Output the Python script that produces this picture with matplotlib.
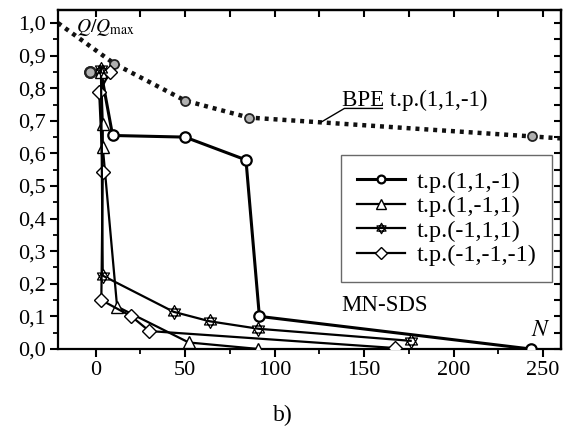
import matplotlib.pyplot as plt
from matplotlib.path import Path
from matplotlib.ticker import MultipleLocator, FuncFormatter

plt.rcParams['font.family'] = ['Liberation Serif', 'DejaVu Serif']
plt.rcParams['mathtext.fontset'] = 'stix'

# t.p.(1,1,-1)
x_c = [-3, 3, 9.5, 50, 84, 91.5, 243]
y_c = [0.85, 0.85, 0.655, 0.65, 0.58, 0.10, 0.0]
# t.p.(1,-1,1)
x_t = [3, 4, 4, 12, 52, 91]
y_t = [0.85, 0.69, 0.62, 0.13, 0.02, 0.0]
# t.p.(-1,1,1)
x_s = [3, 4, 43.6, 63.7, 91, 176]
y_s = [0.86, 0.225, 0.114, 0.085, 0.062, 0.025]
# t.p.(-1,-1,-1)
x_d = [8, 2, 4, 3.2, 20, 30, 167]
y_d = [0.85, 0.787, 0.544, 0.15, 0.10, 0.055, 0.003]
# BPE t.p.(1,1,-1)
x_bpe = [-21, 10.5, 50, 85.5, 244, 260]
y_bpe = [1.0, 0.875, 0.762, 0.71, 0.652, 0.646]

# hexagram marker (two overlapping triangles)
star = Path([(0, 1), (-0.866, -0.5), (0.866, -0.5), (0, 1),
             (0, -1), (-0.866, 0.5), (0.866, 0.5), (0, -1)],
            [Path.MOVETO, Path.LINETO, Path.LINETO, Path.CLOSEPOLY,
             Path.MOVETO, Path.LINETO, Path.LINETO, Path.CLOSEPOLY])

fig = plt.figure(figsize=(5.71, 4.34), dpi=100)
ax = fig.add_axes([0.1016, 0.1959, 0.8809, 0.7811])

ax.plot(x_bpe, y_bpe, color='#111111', lw=3.2, ls=(0, (0.9, 1.1)),
        dash_capstyle='butt', marker='o', ms=6.5, mfc='#b0b0b0', mec='#222222',
        mew=1.3, markevery=[1, 2, 3, 4], zorder=2)

kw = dict(color='black', mfc='white', mec='black')
ax.plot(x_t, y_t, marker='^', ms=9, lw=1.6, mew=1.0, label='t.p.(1,-1,1)', zorder=4, **kw)
ax.plot(x_s, y_s, marker=star, ms=10, lw=1.6, mew=0.9, label='t.p.(-1,1,1)', zorder=6, **kw)
ax.plot(x_d, y_d, marker='D', ms=7.5, lw=1.6, mew=1.0, label='t.p.(-1,-1,-1)', zorder=5, **kw)
ax.plot(x_c, y_c, marker='o', ms=7.5, lw=2.2, mew=1.6, label='t.p.(1,1,-1)', zorder=3, **kw)
ax.plot(x_c[:1], y_c[:1], ls='none', marker='o', ms=7.5, mfc='#b0b0b0',
        mec='#222222', mew=1.6, zorder=3)

ax.set_xlim(-21, 260)
ax.set_ylim(0, 1.04)
ax.xaxis.set_major_locator(MultipleLocator(50))
ax.xaxis.set_minor_locator(MultipleLocator(25))
ax.yaxis.set_major_locator(MultipleLocator(0.1))
ax.yaxis.set_minor_locator(MultipleLocator(0.05))
ax.yaxis.set_major_formatter(FuncFormatter(lambda v, p: f"{v:.1f}".replace('.', ',')))
ax.tick_params(which='major', direction='out', length=6, width=1.5, labelsize=16, pad=3)
ax.tick_params(which='minor', direction='out', length=3.5, width=1.3)
for s in ax.spines.values():
    s.set_linewidth(1.6)

top = ax.secondary_xaxis('top')
top.xaxis.set_major_locator(MultipleLocator(50))
top.xaxis.set_minor_locator(MultipleLocator(25))
top.tick_params(which='both', direction='in', length=5, width=1.5, labeltop=False)
right = ax.secondary_yaxis('right')
right.yaxis.set_major_locator(MultipleLocator(0.1))
right.yaxis.set_minor_locator(MultipleLocator(0.05))
right.tick_params(which='both', direction='in', length=5, width=1.5, labelright=False)
top.spines['top'].set_linewidth(1.6)
right.spines['right'].set_linewidth(1.6)

h, l = ax.get_legend_handles_labels()
order = [3, 0, 1, 2]
leg = ax.legend([h[i] for i in order], [l[i] for i in order], loc='upper right',
                bbox_to_anchor=(0.982, 0.572), borderaxespad=0, fontsize=17.5,
                handlelength=2.0, handletextpad=0.45, labelspacing=0.1,
                markerscale=0.75, fancybox=False, edgecolor='#444444',
                borderpad=0.65)
leg.get_frame().set_linewidth(1.0)

# BPE label with leader line and underline
ax.text(137.4, 0.746, 'BPE t.p.(1,1,-1)', fontsize=16.5, va='baseline', ha='left')
ax.plot([126, 139, 160.2], [0.696, 0.738, 0.738], color='black', lw=1.0, zorder=2)

ax.text(161.5, 0.132, 'MN-SDS', fontsize=16.5, ha='center', va='center')
ax.text(249, 0.058, r'$N$', fontsize=17, ha='center', va='center')
ax.text(-11, 0.985, r'$Q/Q_{\mathrm{max}}$', fontsize=14, ha='left', va='center')

fig.text(0.4956, 0.0438, 'b)', fontsize=17, ha='center', va='center')

plt.savefig('out.png', dpi=100)
